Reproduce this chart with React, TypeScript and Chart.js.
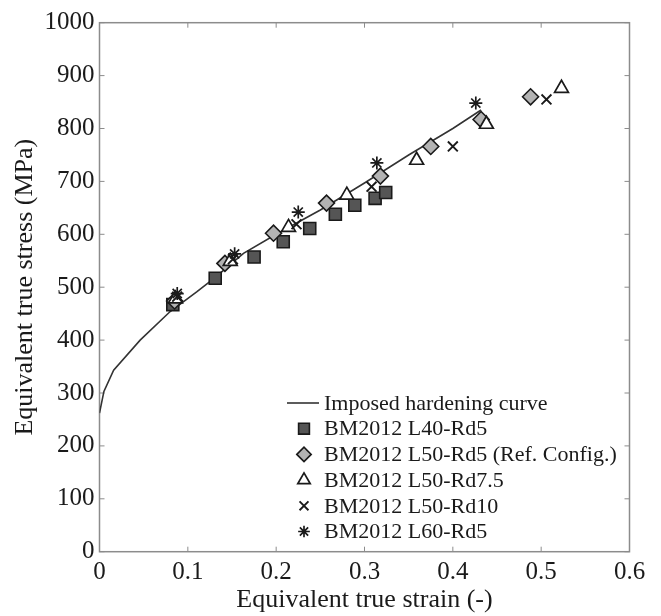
import React, { useEffect, useRef } from "react";
import { Chart, registerables } from "chart.js";
import { drawPoint } from "chart.js/helpers";

Chart.register(...registerables);

// Imposed hardening curve
const curveStrain = [0, 0.005, 0.016, 0.046, 0.08, 0.11, 0.13, 0.163, 0.2, 0.25, 0.3, 0.35, 0.4, 0.432];
const curveStress = [262, 303, 343, 400, 454, 491, 517, 564, 600, 646, 697, 750, 800, 835];

// BM2012 L40-Rd5
const l40Strain = [0.083, 0.131, 0.175, 0.208, 0.238, 0.267, 0.289, 0.312, 0.324];
const l40Stress = [467, 517, 557, 586, 611, 638, 655, 668, 679];

// BM2012 L50-Rd5 (Ref. Config.)
const l50Rd5Strain = [0.085, 0.142, 0.197, 0.257, 0.318, 0.375, 0.432, 0.488];
const l50Rd5Stress = [474, 545, 602, 659, 710, 766, 817, 860];

// BM2012 L50-Rd7.5
const l50Rd75Strain = [0.086, 0.148, 0.214, 0.28, 0.359, 0.438, 0.523];
const l50Rd75Stress = [478, 549, 613, 674, 740, 808, 876];

// BM2012 L50-Rd10
const l50Rd10Strain = [0.088, 0.151, 0.223, 0.308, 0.4, 0.506];
const l50Rd10Stress = [482, 553, 619, 690, 766, 855];

// BM2012 L60-Rd5
const l60Strain = [0.088, 0.153, 0.225, 0.314, 0.426];
const l60Stress = [488, 563, 642, 735, 848];

const xTicks = [0, 0.1, 0.2, 0.3, 0.4, 0.5, 0.6];
const xTickLabels = ["0", "0.1", "0.2", "0.3", "0.4", "0.5", "0.6"];
const yTicks = [0, 100, 200, 300, 400, 500, 600, 700, 800, 900, 1000];
const yTickLabels = ["0", "100", "200", "300", "400", "500", "600", "700", "800", "900", "1000"];

const legendLabels = [
  "Imposed hardening curve",
  "BM2012 L40-Rd5",
  "BM2012 L50-Rd5 (Ref. Config.)",
  "BM2012 L50-Rd7.5",
  "BM2012 L50-Rd10",
  "BM2012 L60-Rd5",
];

const FONT = "'Liberation Serif', 'Times New Roman', serif";
const AXIS_COLOR = "#8c8c8c";
const INK = "#1a1a1a";

const zip = (xs: number[], ys: number[]) => xs.map((x, i) => ({ x, y: ys[i] }));

const markerStyles = [
  { pointStyle: "rect", radius: 8.5, fill: "#555555", border: INK, borderWidth: 1.6 },
  { pointStyle: "rectRot", radius: 8, fill: "#b3b3b3", border: INK, borderWidth: 1.6 },
  { pointStyle: "triangle", radius: 8, fill: "#ffffff", border: INK, borderWidth: 1.7 },
  { pointStyle: "crossRot", radius: 7, fill: INK, border: INK, borderWidth: 1.9 },
  { pointStyle: "star", radius: 6.5, fill: INK, border: INK, borderWidth: 1.7 },
];

const framePlugin = {
  id: "frame",
  beforeDatasetsDraw(chart: any) {
    const { ctx, chartArea: a, scales } = chart;
    ctx.save();
    ctx.strokeStyle = AXIS_COLOR;
    ctx.lineWidth = 1.5;
    ctx.strokeRect(a.left, a.top, a.right - a.left, a.bottom - a.top);
    ctx.lineWidth = 1;
    const L = 5;
    ctx.beginPath();
    xTicks.forEach((v) => {
      const px = scales.x.getPixelForValue(v);
      ctx.moveTo(px, a.bottom);
      ctx.lineTo(px, a.bottom - L);
      ctx.moveTo(px, a.top);
      ctx.lineTo(px, a.top + L);
    });
    yTicks.forEach((v) => {
      const py = scales.y.getPixelForValue(v);
      ctx.moveTo(a.left, py);
      ctx.lineTo(a.left + L, py);
      ctx.moveTo(a.right, py);
      ctx.lineTo(a.right - L, py);
    });
    ctx.stroke();
    ctx.restore();
  },
};

const legendPlugin = {
  id: "customLegend",
  afterDraw(chart: any) {
    const { ctx } = chart;
    const markerX = 304;
    const textX = 324;
    const rowY0 = 403;
    const rowH = 25.7;
    ctx.save();
    ctx.font = `22px ${FONT}`;
    ctx.fillStyle = INK;
    ctx.textBaseline = "middle";
    ctx.textAlign = "left";
    legendLabels.forEach((label, i) => {
      const y = rowY0 + i * rowH;
      if (i === 0) {
        ctx.strokeStyle = "#333333";
        ctx.lineWidth = 1.6;
        ctx.beginPath();
        ctx.moveTo(287, y);
        ctx.lineTo(319, y);
        ctx.stroke();
      } else {
        const m = markerStyles[i - 1];
        ctx.fillStyle = m.fill;
        ctx.strokeStyle = m.border;
        ctx.lineWidth = m.borderWidth;
        drawPoint(ctx, { pointStyle: m.pointStyle, radius: m.radius * 0.9, rotation: 0, borderWidth: m.borderWidth } as any, markerX, y);
      }
      ctx.fillStyle = INK;
      ctx.fillText(label, textX, y + 1);
    });
    ctx.restore();
  },
};

export default function App() {
  const canvasRef = useRef<HTMLCanvasElement | null>(null);

  useEffect(() => {
    if (!canvasRef.current) return;
    const scatterSets = [
      zip(l40Strain, l40Stress),
      zip(l50Rd5Strain, l50Rd5Stress),
      zip(l50Rd75Strain, l50Rd75Stress),
      zip(l50Rd10Strain, l50Rd10Stress),
      zip(l60Strain, l60Stress),
    ];
    const datasets: any[] = [
      {
        label: legendLabels[0],
        data: zip(curveStrain, curveStress),
        showLine: true,
        borderColor: "#333333",
        borderWidth: 1.6,
        pointRadius: 0,
        fill: false,
        tension: 0,
        order: 10,
      },
      ...scatterSets.map((d, i) => ({
        label: legendLabels[i + 1],
        data: d,
        showLine: false,
        pointStyle: markerStyles[i].pointStyle,
        pointRadius: markerStyles[i].radius,
        pointBackgroundColor: markerStyles[i].fill,
        pointBorderColor: markerStyles[i].border,
        pointBorderWidth: markerStyles[i].borderWidth,
        order: 5 - i,
      })),
    ];

    const chart = new Chart(canvasRef.current, {
      type: "scatter",
      data: { datasets },
      plugins: [framePlugin, legendPlugin],
      options: {
        responsive: false,
        animation: false,
        layout: { padding: { left: 0, top: 22.7, right: 31.5, bottom: 0 } },
        plugins: { legend: { display: false }, tooltip: { enabled: false } },
        scales: {
          x: {
            type: "linear",
            min: 0,
            max: 0.6,
            afterBuildTicks: (s: any) => {
              s.ticks = xTicks.map((v) => ({ value: v }));
            },
            afterFit: (s: any) => {
              s.height = 64.3;
            },
            grid: { display: false, drawTicks: false },
            border: { display: false },
            ticks: {
              autoSkip: false,
              maxRotation: 0,
              padding: 6,
              color: INK,
              font: { family: FONT, size: 25 },
              callback: (v: any) => {
                const idx = xTicks.findIndex((t) => Math.abs(t - Number(v)) < 1e-9);
                return idx >= 0 ? xTickLabels[idx] : "";
              },
            },
            title: {
              display: true,
              text: "Equivalent true strain (-)",
              color: INK,
              font: { family: FONT, size: 26 },
              padding: { top: 0, bottom: 0 },
            },
          },
          y: {
            type: "linear",
            min: 0,
            max: 1000,
            afterBuildTicks: (s: any) => {
              s.ticks = yTicks.map((v) => ({ value: v }));
            },
            afterFit: (s: any) => {
              s.width = 99.5;
            },
            grid: { display: false, drawTicks: false },
            border: { display: false },
            ticks: {
              autoSkip: false,
              padding: 5,
              color: INK,
              font: { family: FONT, size: 25 },
              callback: (v: any) => {
                const idx = yTicks.indexOf(Number(v));
                return idx >= 0 ? yTickLabels[idx] : "";
              },
            },
            title: {
              display: true,
              text: "Equivalent true stress (MPa)",
              color: INK,
              font: { family: FONT, size: 26 },
              padding: { top: 10, bottom: 0 },
            },
          },
        },
      } as any,
    });
    return () => chart.destroy();
  }, []);

  return (
    <div style={{ position: "absolute", left: 0, top: 0, width: 661, height: 616, background: "#fff" }}>
      <canvas ref={canvasRef} width={661} height={616} style={{ width: 661, height: 616, display: "block" }} />
    </div>
  );
}
